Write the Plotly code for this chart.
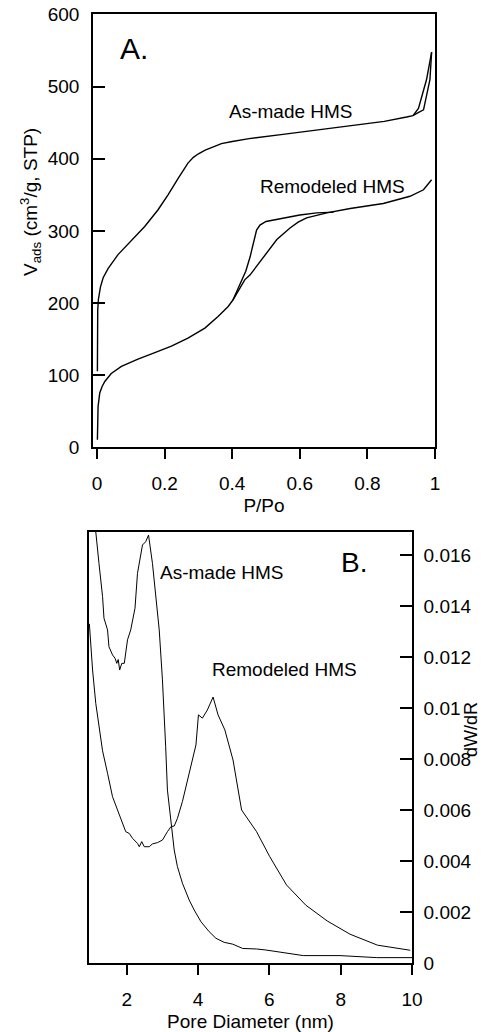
import plotly.graph_objects as go

# ---------------- Panel A: nitrogen isotherms ----------------
asmade_ads_p = [0.001, 0.001, 0.002, 0.004, 0.010, 0.018, 0.033, 0.062, 0.101, 0.141, 0.180,
                0.210, 0.240, 0.255, 0.269, 0.285, 0.300, 0.320, 0.345, 0.368, 0.40, 0.45,
                0.55, 0.65, 0.75, 0.85, 0.916, 0.935, 0.946, 0.966, 0.985, 0.99]
asmade_ads_v = [105, 150, 190, 205, 222, 235, 248, 267, 287, 306, 329,
                350, 373, 384, 394, 402, 407, 412, 417, 421, 424, 428,
                434, 440, 446, 452, 458, 460, 463, 468, 510, 548]
asmade_des_p = [0.99, 0.975, 0.951, 0.935]
asmade_des_v = [548, 510, 470, 460]

remod_ads_p = [0.001, 0.001, 0.003, 0.008, 0.015, 0.023, 0.042, 0.072, 0.121, 0.171, 0.220,
               0.269, 0.319, 0.358, 0.388, 0.402, 0.437, 0.453, 0.492, 0.532, 0.571, 0.595,
               0.620, 0.650, 0.680, 0.749, 0.847, 0.926, 0.966, 0.99]
remod_ads_v = [10, 35, 56, 75, 84, 91, 102, 112, 122, 131, 140,
               151, 165, 181, 195, 204, 232, 239, 264, 288, 304, 312,
               318, 322, 325, 331, 338, 348, 357, 371]
remod_des_p = [0.70, 0.65, 0.60, 0.551, 0.50, 0.482, 0.472, 0.458, 0.453, 0.44, 0.42, 0.402]
remod_des_v = [326, 325, 322, 318, 313, 308, 301, 274, 264, 244, 222, 204]

xticks_a = [0, 0.2, 0.4, 0.6, 0.8, 1]
xticktext_a = ["0", "0.2", "0.4", "0.6", "0.8", "1"]
yticks_a = [0, 100, 200, 300, 400, 500, 600]

# ---------------- Panel B: pore size distributions ----------------
asmade_d = [1.08, 1.13, 1.22, 1.32, 1.36, 1.46, 1.50, 1.60, 1.67, 1.72, 1.76, 1.80, 1.86, 1.93,
            2.02, 2.11, 2.23, 2.30, 2.39, 2.44, 2.53, 2.61, 2.72, 2.81, 2.91, 3.00, 3.05, 3.09,
            3.14, 3.24, 3.33, 3.42, 3.56, 3.75, 3.89, 4.08, 4.31, 4.50, 4.73, 4.97, 5.25, 5.64,
            5.90, 6.95, 7.98, 9.01, 10.0]
asmade_w = [0.0176, 0.01685, 0.01567, 0.01437, 0.01352, 0.01306, 0.01240, 0.01208, 0.01195,
            0.01175, 0.0119, 0.01149, 0.01175, 0.01175, 0.01267, 0.01306, 0.01391, 0.01528,
            0.01594, 0.01639, 0.01652, 0.01678, 0.01567, 0.01437, 0.01306, 0.01110, 0.00979,
            0.00850, 0.00678, 0.00548, 0.00443, 0.00378, 0.00313, 0.00247, 0.00208, 0.00162,
            0.00123, 0.00097, 0.00081, 0.00074, 0.00057, 0.00055, 0.00051, 0.00029, 0.00029,
            0.00021, 0.00021]

remod_d = [0.95, 1.04, 1.13, 1.22, 1.32, 1.46, 1.60, 1.74, 1.88, 1.97, 2.07, 2.16, 2.30, 2.35,
           2.42, 2.49, 2.63, 2.72, 2.86, 3.00, 3.14, 3.24, 3.33, 3.42, 3.56, 3.70, 3.82, 3.89,
           3.94, 4.01, 4.12, 4.26, 4.42, 4.56, 4.75, 4.98, 5.03, 5.22, 5.64, 6.01, 6.48, 7.02,
           7.62, 8.26, 9.03, 9.95]
remod_w = [0.0133, 0.01149, 0.01018, 0.00927, 0.00832, 0.00744, 0.00652, 0.0060, 0.00548,
           0.00515, 0.00508, 0.00489, 0.00469, 0.00456, 0.00476, 0.00456, 0.00456, 0.00467,
           0.00472, 0.00482, 0.00515, 0.00535, 0.00537, 0.00567, 0.00633, 0.00718, 0.00783,
           0.00822, 0.00855, 0.00973, 0.0096, 0.00992, 0.01043, 0.00973, 0.00914, 0.00796,
           0.00757, 0.0060, 0.00515, 0.00417, 0.00306, 0.00227, 0.00165, 0.00113, 0.0007,
           0.0005]

xticks_b = [2, 4, 6, 8, 10]
yticks_b = [0, 0.002, 0.004, 0.006, 0.008, 0.01, 0.012, 0.014, 0.016]
yticktext_b = ["0", "0.002", "0.004", "0.006", "0.008", "0.01", "0.012", "0.014", "0.016"]

FONT = "Liberation Sans, Arial, Helvetica, sans-serif"
W, H = 483, 1032
FS = 19

def px_x(p):
    return p / W

def px_y(p):
    return 1 - p / H

fig = go.Figure()
line_a = dict(color="black", width=1.4)
line_b = dict(color="black", width=1.0)

fig.add_trace(go.Scatter(x=asmade_ads_p, y=asmade_ads_v, mode="lines", line=line_a,
                         xaxis="x", yaxis="y", name="As-made HMS (ads)"))
fig.add_trace(go.Scatter(x=asmade_des_p, y=asmade_des_v, mode="lines", line=line_a,
                         xaxis="x", yaxis="y", name="As-made HMS (des)"))
fig.add_trace(go.Scatter(x=remod_ads_p, y=remod_ads_v, mode="lines", line=line_a,
                         xaxis="x", yaxis="y", name="Remodeled HMS (ads)"))
fig.add_trace(go.Scatter(x=remod_des_p, y=remod_des_v, mode="lines", line=line_a,
                         xaxis="x", yaxis="y", name="Remodeled HMS (des)"))
fig.add_trace(go.Scatter(x=asmade_d, y=asmade_w, mode="lines", line=line_b,
                         xaxis="x2", yaxis="y2", name="As-made HMS"))
fig.add_trace(go.Scatter(x=remod_d, y=remod_w, mode="lines", line=line_b,
                         xaxis="x2", yaxis="y2", name="Remodeled HMS"))

tickfont = dict(family=FONT, size=FS, color="black")
axis_common = dict(showgrid=False, zeroline=False, showline=True, mirror=True,
                   linecolor="black", linewidth=1.5, tickcolor="black", tickwidth=1.5,
                   tickfont=tickfont, automargin=False)

fig.update_layout(
    width=W, height=H,
    margin=dict(l=0, r=0, t=0, b=0, autoexpand=False),
    paper_bgcolor="white", plot_bgcolor="white",
    showlegend=False,
    font=dict(family=FONT, size=FS, color="black"),
    xaxis=dict(domain=[px_x(93), px_x(435)], range=[-0.012, 1.0], anchor="y",
               tickmode="array", tickvals=xticks_a, ticktext=xticktext_a,
               ticks="outside", ticklen=10, ticklabelstandoff=8,
               title=dict(text="P/Po", font=dict(family=FONT, size=FS), standoff=6),
               **axis_common),
    yaxis=dict(domain=[px_y(447), px_y(14)], range=[0, 601], anchor="x",
               tickmode="array", tickvals=yticks_a, ticks="inside", ticklen=12,
               ticklabelstandoff=8,
               **axis_common),
    xaxis2=dict(domain=[px_x(89), px_x(412)], range=[0.94, 10], anchor="y2",
                tickmode="array", tickvals=xticks_b, ticks="outside", ticklen=10,
                ticklabelstandoff=8,
                title=dict(text="Pore Diameter (nm)", font=dict(family=FONT, size=FS), standoff=6),
                **axis_common),
    yaxis2=dict(domain=[px_y(963), px_y(532)], range=[0, 0.0169], anchor="x2", side="right",
                tickmode="array", tickvals=yticks_b, ticktext=yticktext_b,
                ticks="inside", ticklen=12, ticklabelstandoff=6,
                **axis_common),
)

ann_font = dict(family=FONT, size=FS, color="black")
fig.add_annotation(x=0.109, y=553, xref="x", yref="y", text="A.", showarrow=False,
                   xanchor="center", yanchor="middle",
                   font=dict(family=FONT, size=30, color="black"))
fig.add_annotation(x=0.573, y=465, xref="x", yref="y", text="As-made HMS", showarrow=False,
                   xanchor="center", yanchor="middle", font=ann_font)
fig.add_annotation(x=0.698, y=362, xref="x", yref="y", text="Remodeled HMS", showarrow=False,
                   xanchor="center", yanchor="middle", font=ann_font)
fig.add_annotation(x=8.37, y=0.0157, xref="x2", yref="y2", text="B.", showarrow=False,
                   xanchor="center", yanchor="middle",
                   font=dict(family=FONT, size=28, color="black"))
fig.add_annotation(x=4.67, y=0.0153, xref="x2", yref="y2", text="As-made HMS", showarrow=False,
                   xanchor="center", yanchor="middle", font=ann_font)
fig.add_annotation(x=6.42, y=0.0115, xref="x2", yref="y2", text="Remodeled HMS", showarrow=False,
                   xanchor="center", yanchor="middle", font=ann_font)
# axis titles placed as rotated text
fig.add_annotation(x=px_x(30), y=px_y(202), xref="paper", yref="paper",
                   text="V<sub>ads</sub> (cm<sup>3</sup>/g, STP)", textangle=-90,
                   xanchor="center", yanchor="middle",
                   showarrow=False, font=ann_font)
fig.add_annotation(x=px_x(471), y=px_y(730), xref="paper", yref="paper",
                   text="dW/dR", textangle=-90, xanchor="center", yanchor="middle",
                   borderpad=0, showarrow=False, font=dict(family=FONT, size=18, color="black"))

fig.write_html("out.html")
